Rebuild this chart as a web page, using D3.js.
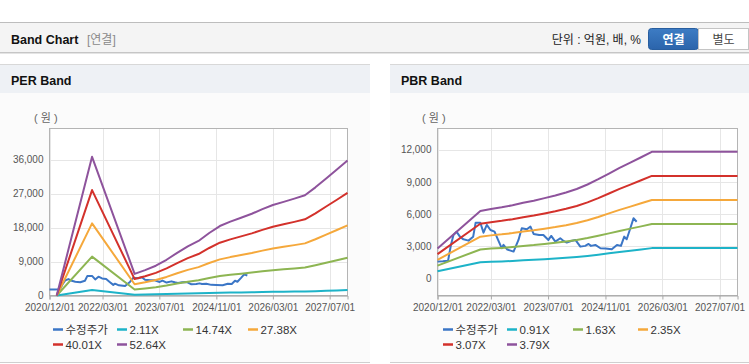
<!DOCTYPE html>
<html>
<head>
<meta charset="utf-8">
<script src="https://cdn.jsdelivr.net/npm/d3@7"></script>
<style>
    body { margin: 0; background: #fff; overflow: hidden; }
    svg { display: block; font-family: "Liberation Sans", Arial, "Noto Sans CJK KR", sans-serif; }
</style>
</head>
<body>
<svg id="chart" width="749" height="364"></svg>
<script>
// Band chart (PER / PBR)

// x axis
const xTickDates = ["2020-12-01", "2022-03-01", "2023-07-01", "2024-11-01", "2026-03-01", "2027-07-01"];
const xDomain = ["2020-12-01", "2027-12-01"];

// 수정주가 (same series in both charts)
const priceDates = ["2020-12-01", "2021-01-16", "2021-03-01", "2021-03-25", "2021-04-16", "2021-05-13",
    "2021-06-10", "2021-07-10", "2021-08-22", "2021-10-01", "2021-10-22", "2021-12-01", "2021-12-28",
    "2022-01-25", "2022-02-25", "2022-04-01", "2022-05-01", "2022-06-01", "2022-06-16", "2022-07-19",
    "2022-09-10", "2022-10-22", "2022-11-19", "2023-01-01", "2023-02-01", "2023-02-28", "2023-04-16",
    "2023-05-22", "2023-07-04", "2023-07-28", "2023-09-01", "2023-10-13", "2023-11-10", "2023-12-07",
    "2024-01-13", "2024-02-19", "2024-04-01", "2024-05-13", "2024-06-10", "2024-07-01", "2024-08-07",
    "2024-09-19", "2024-11-01", "2024-12-25", "2025-02-07", "2025-03-13", "2025-04-10", "2025-05-01",
    "2025-06-01", "2025-06-28", "2025-07-25"];
const priceValues = [1580, 1600, 1660, 3100, 4050, 4350,
    3900, 3650, 3530, 3900, 5200, 5200, 4270,
    4990, 4520, 4365, 3600, 2823, 3130, 2700,
    2508, 3594, 4681, 4590, 4830, 4152, 4059,
    4059, 3594, 3966, 3437, 3752, 3500, 3344,
    3500, 3594, 2970, 3040, 3220, 3040, 3130,
    2820, 2790, 2730, 3130, 3040, 3900, 3660,
    4680, 5610, 5290];

// PER band : EPS base
const perBandDates = ["2021-02-01", "2021-12-01", "2022-12-01", "2023-03-01", "2023-06-01", "2023-09-01",
    "2023-12-01", "2024-03-01", "2024-06-01", "2024-09-01", "2024-12-01", "2025-03-01", "2025-06-01",
    "2025-09-01", "2025-12-01", "2026-03-01", "2026-06-01", "2026-09-01", "2026-12-01", "2027-03-01",
    "2027-06-01", "2027-09-01", "2027-12-01"];
const perEps = [0, 699, 109, 128, 150, 180,
    215, 248, 275, 315, 350, 372, 392,
    412, 435, 456, 472, 488, 505, 545,
    590, 635, 680];
const perMultiples = [2.11, 14.74, 27.38, 40.01, 52.64];
const perYTicks = [0, 9000, 18000, 27000, 36000];

// PBR band : BPS base
const pbrBandDates = ["2020-12-01", "2021-12-01", "2022-03-01", "2022-06-01", "2022-09-01", "2022-12-01",
    "2023-03-01", "2023-06-01", "2023-09-01", "2023-12-01", "2024-03-01", "2024-06-01", "2024-09-01",
    "2024-12-01", "2025-03-01", "2025-06-01", "2025-09-01", "2025-12-01", "2027-12-01"];
const pbrBps = [740, 1660, 1710, 1750, 1800, 1860,
    1910, 1975, 2040, 2115, 2200, 2310, 2440,
    2580, 2720, 2850, 2980, 3112, 3112];
const pbrMultiples = [0.91, 1.63, 2.35, 3.07, 3.79];
const pbrYTicks = [0, 3000, 6000, 9000, 12000];

const priceColor = "#3b76c6";
const bandColors = ["#1db3c8", "#8db552", "#f5a83b", "#d3312b", "#8e539c"];

const parse = d3.timeParse("%Y-%m-%d");
const svg = d3.select("#chart");

// ---------- header ----------
svg.append("rect").attr("x", 0).attr("y", 22).attr("width", 749).attr("height", 31).attr("fill", "#f4f4f4");
svg.append("line").attr("x1", 0).attr("x2", 749).attr("y1", 22.5).attr("y2", 22.5).attr("stroke", "#bdbdbd");
svg.append("line").attr("x1", 0).attr("x2", 749).attr("y1", 52.5).attr("y2", 52.5).attr("stroke", "#c6c6c6");
svg.append("line").attr("x1", 0).attr("x2", 749).attr("y1", 53.5).attr("y2", 53.5).attr("stroke", "#e4e4e4");
svg.append("text").attr("x", 11).attr("y", 43.5)
    .attr("font-size", "12.5px").attr("font-weight", "bold").attr("fill", "#111")
    .text("Band Chart");
svg.append("text").attr("x", 87).attr("y", 43.5)
    .attr("font-size", "12px").attr("fill", "#8a8a8a").text("[연결]");
svg.append("text").attr("x", 641).attr("y", 43.5).attr("text-anchor", "end")
    .attr("font-size", "12px").attr("fill", "#222").text("단위 : 억원, 배, %");

const grad = svg.append("defs").append("linearGradient").attr("id", "btnGrad")
    .attr("x1", 0).attr("x2", 0).attr("y1", 0).attr("y2", 1);
grad.append("stop").attr("offset", "0%").attr("stop-color", "#3d7cc4");
grad.append("stop").attr("offset", "100%").attr("stop-color", "#2b64ab");
svg.append("rect").attr("x", 648.5).attr("y", 28.5).attr("width", 50).attr("height", 21).attr("rx", 3)
    .attr("fill", "url(#btnGrad)").attr("stroke", "#285e9f");
svg.append("rect").attr("x", 698.5).attr("y", 28.5).attr("width", 50).attr("height", 21)
    .attr("fill", "#fff").attr("stroke", "#c4c4c4");
svg.append("text").attr("x", 673.5).attr("y", 43.5).attr("text-anchor", "middle")
    .attr("font-size", "12px").attr("font-weight", "bold").attr("fill", "#fff").text("연결");
svg.append("text").attr("x", 723.5).attr("y", 43.5).attr("text-anchor", "middle")
    .attr("font-size", "12px").attr("fill", "#444").text("별도");

/**
 * Draws one band panel.
 */
function drawBandPanel(cfg) {
    const g = svg.append("g").attr("transform", `translate(${cfg.panelX},0)`);

    // panel box and title bar
    g.append("rect").attr("x", 0).attr("y", 64).attr("width", cfg.panelW).attr("height", 299).attr("fill", "#fbfbfb");
    g.append("rect").attr("x", 0).attr("y", 64).attr("width", cfg.panelW).attr("height", 29).attr("fill", "#eef1f5");
    g.append("line").attr("x1", 0).attr("x2", cfg.panelW).attr("y1", 64.5).attr("y2", 64.5).attr("stroke", "#d8d8d8");
    g.append("line").attr("x1", 0).attr("x2", cfg.panelW).attr("y1", 362.5).attr("y2", 362.5).attr("stroke", "#cfcfcf");
    g.append("text").attr("x", 11).attr("y", 85)
        .attr("font-size", "12.5px").attr("font-weight", "bold").attr("fill", "#111")
        .text(cfg.title);

    const left = cfg.plotLeft, right = cfg.plotRight, top = 128.5, bottom = 295.5;

    const x = d3.scaleTime().domain(xDomain.map(parse)).range([left, right]);
    const y = d3.scaleLinear().domain(cfg.yDomain).range([bottom, top]);

    g.append("rect").attr("x", left).attr("y", top).attr("width", right - left).attr("height", bottom - top)
        .attr("fill", "#fff");

    // unit label
    g.append("text").attr("x", cfg.unitX).attr("y", 122).attr("font-size", "11px").attr("fill", "#666")
        .attr("xml:space", "preserve").text("( 원 )");

    // grid
    g.append("g").selectAll("line").data(cfg.yTicks).join("line")
        .attr("x1", left).attr("x2", right)
        .attr("y1", d => Math.round(y(d)) + 0.5).attr("y2", d => Math.round(y(d)) + 0.5)
        .attr("stroke", "#e6e6e6");
    g.append("g").selectAll("line").data(xTickDates.map(parse)).join("line")
        .attr("x1", d => Math.round(x(d)) + 0.5).attr("x2", d => Math.round(x(d)) + 0.5)
        .attr("y1", top).attr("y2", bottom)
        .attr("stroke", "#e6e6e6");

    // frame
    g.append("rect").attr("x", left).attr("y", top).attr("width", right - left).attr("height", bottom - top)
        .attr("fill", "none").attr("stroke", "#b4b4b4");

    // y labels
    const yAxis = d3.axisLeft(y).tickValues(cfg.yTicks).tickSize(0).tickPadding(6).tickFormat(d3.format(","));
    const ya = g.append("g").attr("transform", `translate(${left},0)`).call(yAxis);
    ya.select(".domain").remove();
    ya.selectAll("text").attr("font-size", "10px").attr("fill", "#555")
        .attr("font-family", "'Liberation Sans', Arial, sans-serif");

    // x axis
    const xAxis = d3.axisBottom(x).tickValues(xTickDates.map(parse)).tickSize(4).tickPadding(4)
        .tickFormat(d3.timeFormat("%Y/%m/%d"));
    const xa = g.append("g").attr("transform", `translate(0,${bottom})`).call(xAxis);
    xa.select(".domain").attr("stroke", "#a8a8a8");
    xa.selectAll(".tick line").attr("stroke", "#a8a8a8");
    xa.selectAll("text").attr("font-size", "10px").attr("fill", "#555")
        .attr("font-family", "'Liberation Sans', Arial, sans-serif");

    // price line
    const priceData = priceDates.map((d, i) => ({ date: parse(d), v: priceValues[i] }));
    const line = d3.line().x(d => x(d.date)).y(d => y(d.v));
    g.append("path").datum(priceData).attr("d", line)
        .attr("fill", "none").attr("stroke", priceColor).attr("stroke-width", 2).attr("stroke-linejoin", "round");

    // bands = base value x multiple
    cfg.multiples.forEach((m, k) => {
        const data = cfg.bandDates.map((d, i) => ({ date: parse(d), v: cfg.base[i] * m }));
        g.append("path").datum(data).attr("d", line)
            .attr("fill", "none").attr("stroke", bandColors[k]).attr("stroke-width", 2)
            .attr("stroke-linejoin", "round");
    });

    // legend
    const items = [{ name: "수정주가", color: priceColor }]
        .concat(cfg.multiples.map((m, k) => ({ name: m.toFixed(2) + "X", color: bandColors[k] })));
    const colX = [53, 117, 183, 248];
    const leg = g.append("g").selectAll("g").data(items).join("g")
        .attr("transform", (d, i) => `translate(${colX[i % 4]},${i < 4 ? 329 : 344})`);
    leg.append("line").attr("x1", 0).attr("x2", 10).attr("y1", 0.5).attr("y2", 0.5)
        .attr("stroke", d => d.color).attr("stroke-width", 2.5);
    leg.append("text").attr("x", 12.5).attr("y", 4.5).attr("font-size", "11.5px").attr("fill", "#333")
        .text(d => d.name);
}

drawBandPanel({
    title: "PER Band", panelX: 0, panelW: 370,
    plotLeft: 49.5, plotRight: 347.5, unitX: 34,
    yDomain: [0, 44300], yTicks: perYTicks,
    bandDates: perBandDates, base: perEps, multiples: perMultiples
});

drawBandPanel({
    title: "PBR Band", panelX: 390, panelW: 359,
    plotLeft: 47.5, plotRight: 347.5, unitX: 32,
    yDomain: [-1580, 13970], yTicks: pbrYTicks,
    bandDates: pbrBandDates, base: pbrBps, multiples: pbrMultiples
});
</script>
</body>
</html>
